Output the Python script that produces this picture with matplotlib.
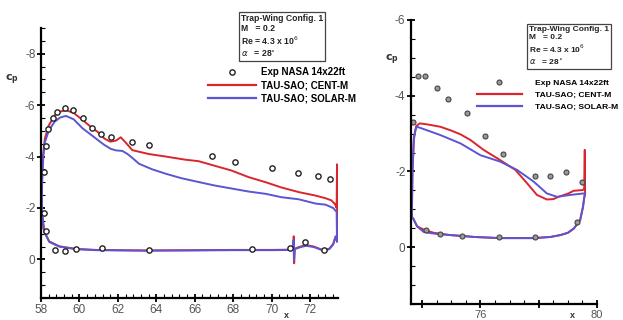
import matplotlib
matplotlib.use("Agg")
import matplotlib.pyplot as plt
from matplotlib.lines import Line2D
from matplotlib.ticker import MultipleLocator

plt.rcParams['font.family'] = ['Liberation Sans', 'DejaVu Sans']
plt.rcParams['axes.unicode_minus'] = False

RED = '#d9262e'
BLUE = '#5b55d2'

# ---- left panel data (x, cp) ----
l_exp_x = [58.17, 58.26, 58.39, 58.60, 58.83, 59.24, 59.67, 60.16, 60.64, 61.11,
           61.63, 62.75, 63.61, 66.90, 68.07, 70.04, 71.39, 72.39, 73.05,
           58.14, 58.26, 58.73, 59.24, 59.81, 61.19, 63.61, 68.97, 70.96, 71.72, 72.74]
l_exp_cp = [-3.40, -4.42, -5.07, -5.51, -5.73, -5.90, -5.82, -5.51, -5.12, -4.87,
            -4.77, -4.55, -4.46, -4.04, -3.80, -3.57, -3.36, -3.23, -3.12,
            -1.80, -1.09, -0.35, -0.32, -0.41, -0.44, -0.36, -0.41, -0.46, -0.67, -0.36]

l_cent_up_x = [58.02, 58.05, 58.10, 58.20, 58.40, 58.70, 59.00, 59.30, 59.70, 60.20,
               60.60, 61.00, 61.30, 61.60, 61.90, 62.15, 62.40, 62.75, 63.60, 64.50,
               65.50, 66.20, 67.00, 67.90, 68.80, 69.70, 70.50, 71.40, 72.30, 72.80,
               73.10, 73.30, 73.38, 73.40, 73.41]
l_cent_up_cp = [-1.20, -3.00, -4.00, -4.70, -5.20, -5.60, -5.75, -5.80, -5.70, -5.40,
                -5.15, -4.93, -4.70, -4.58, -4.62, -4.75, -4.55, -4.25, -4.10, -4.00,
                -3.88, -3.82, -3.65, -3.46, -3.20, -3.00, -2.80, -2.62, -2.48, -2.38,
                -2.30, -2.15, -2.00, -3.70, -0.80]
l_cent_lo_x = [58.02, 58.05, 58.17, 58.43, 58.95, 59.81, 60.85, 63.40, 66.00, 68.00,
               70.00, 71.00, 71.12, 71.15, 71.17, 71.20, 71.50, 71.80, 72.20, 72.60,
               72.80, 73.00, 73.20, 73.30, 73.41]
l_cent_lo_cp = [-1.20, -1.80, -1.09, -0.70, -0.51, -0.41, -0.37, -0.35, -0.36, -0.37,
                -0.37, -0.38, -0.40, -0.90, 0.15, -0.42, -0.50, -0.56, -0.50, -0.38,
                -0.37, -0.42, -0.60, -0.80, -0.80]

l_solar_up_x = [58.03, 58.06, 58.12, 58.20, 58.40, 58.70, 59.00, 59.30, 59.70, 60.16,
                60.60, 61.00, 61.30, 61.63, 61.90, 62.23, 62.50, 62.75, 63.10, 63.80,
                64.50, 65.30, 66.20, 67.00, 67.90, 68.80, 69.70, 70.50, 71.40, 72.30,
                72.80, 73.20, 73.38, 73.40]
l_solar_up_cp = [-1.50, -3.00, -4.00, -4.55, -5.00, -5.35, -5.52, -5.58, -5.45, -5.10,
                 -4.85, -4.62, -4.45, -4.30, -4.24, -4.22, -4.10, -3.95, -3.72, -3.50,
                 -3.33, -3.16, -3.01, -2.88, -2.76, -2.64, -2.55, -2.42, -2.34, -2.17,
                 -2.13, -2.00, -1.85, -0.70]
l_solar_lo_x = [58.03, 58.06, 58.17, 58.43, 58.95, 59.81, 60.85, 63.40, 66.00, 68.00,
                70.00, 71.00, 71.12, 71.14, 71.16, 71.20, 71.50, 71.80, 72.20, 72.60,
                72.80, 73.00, 73.20, 73.32, 73.40]
l_solar_lo_cp = [-1.50, -1.75, -1.07, -0.68, -0.50, -0.40, -0.36, -0.34, -0.35, -0.36,
                 -0.36, -0.37, -0.39, -0.75, 0.05, -0.40, -0.48, -0.53, -0.48, -0.37,
                 -0.36, -0.40, -0.58, -0.90, -0.70]

# ---- right panel data (x, cp) ----
r_exp_x = [73.68, 73.85, 74.09, 74.52, 74.89, 75.54, 76.17, 76.76, 77.86, 78.40,
           78.94, 79.48, 79.33, 74.12, 74.63, 75.37, 76.63, 77.88]
r_exp_cp = [-3.31, -4.52, -4.52, -4.21, -3.91, -3.54, -2.94, -2.46, -1.88, -1.88,
            -1.99, -1.71, -0.67, -0.45, -0.34, -0.29, -0.26, -0.26]

r_cent_up_x = [73.65, 73.67, 73.72, 73.80, 73.92, 74.20, 74.63, 75.00, 75.32, 75.66,
               76.11, 76.68, 77.20, 77.60, 77.94, 78.28, 78.50, 78.68, 79.02, 79.20,
               79.52, 79.56, 79.58, 79.59]
r_cent_up_cp = [-0.80, -2.00, -2.90, -3.20, -3.27, -3.24, -3.18, -3.08, -2.98, -2.83,
                -2.57, -2.30, -2.04, -1.69, -1.38, -1.26, -1.27, -1.33, -1.42, -1.49,
                -1.51, -1.55, -2.57, -1.40]
r_cent_lo_x = [73.65, 73.70, 73.83, 74.10, 74.40, 74.97, 75.80, 76.68, 77.83, 78.40,
               78.74, 79.00, 79.20, 79.42, 79.52, 79.56, 79.59]
r_cent_lo_cp = [-0.80, -0.75, -0.55, -0.45, -0.38, -0.32, -0.27, -0.24, -0.24, -0.27,
                -0.32, -0.38, -0.49, -0.71, -1.07, -1.30, -1.40]

r_solar_up_x = [73.65, 73.67, 73.72, 73.78, 73.83, 74.20, 74.63, 75.32, 76.00, 76.68,
                77.26, 77.83, 78.28, 78.63, 79.08, 79.54, 79.58]
r_solar_up_cp = [-0.80, -2.00, -2.85, -3.12, -3.18, -3.08, -2.96, -2.74, -2.43, -2.26,
                 -2.04, -1.73, -1.42, -1.33, -1.38, -1.42, -1.40]
r_solar_lo_x = [73.65, 73.70, 73.83, 74.06, 74.50, 74.97, 75.80, 76.68, 77.83, 78.40,
                78.74, 79.00, 79.20, 79.42, 79.52, 79.56, 79.58]
r_solar_lo_cp = [-0.80, -0.75, -0.55, -0.40, -0.35, -0.32, -0.27, -0.24, -0.24, -0.27,
                 -0.32, -0.38, -0.49, -0.71, -1.07, -1.30, -1.40]

info_text = "Trap-Wing Config. 1\nM   = 0.2\nRe = 4.3 x 10$^6$\n$\\alpha$   = 28$^{\\circ}$"
labels = ["Exp NASA 14x22ft", "TAU-SAO; CENT-M", "TAU-SAO; SOLAR-M"]

fig = plt.figure(figsize=(6.23, 3.2), dpi=100)
axL = fig.add_axes([0.0658, 0.06875, 0.4767, 0.84375])
axR = fig.add_axes([0.6597, 0.05, 0.2986, 0.8875])


def style(ax, xlim, ylim, xmaj, xmin):
    ax.set_xlim(*xlim)
    ax.set_ylim(*ylim)
    for s in ('top', 'right'):
        ax.spines[s].set_visible(False)
    for s in ('left', 'bottom'):
        ax.spines[s].set_linewidth(1.6)
    ax.xaxis.set_major_locator(MultipleLocator(xmaj))
    ax.xaxis.set_minor_locator(MultipleLocator(xmin))
    ax.yaxis.set_major_locator(MultipleLocator(2))
    ax.yaxis.set_minor_locator(MultipleLocator(0.5))
    ax.tick_params(which='major', direction='inout', length=6, width=1.3,
                   labelsize=8.5, labelcolor='#555555', pad=1)
    ax.tick_params(which='minor', direction='in', length=3, width=0.8)


# left panel
axL.plot(l_cent_up_x, l_cent_up_cp, color=RED, lw=1.4)
axL.plot(l_cent_lo_x, l_cent_lo_cp, color=RED, lw=1.4)
axL.plot(l_solar_up_x, l_solar_up_cp, color=BLUE, lw=1.4)
axL.plot(l_solar_lo_x, l_solar_lo_cp, color=BLUE, lw=1.4)
axL.plot(l_exp_x, l_exp_cp, 'o', ms=3.8, mfc='white', mec='#222222', mew=1.0, clip_on=False)
style(axL, (58, 73.45), (1.5, -9), 2, 0.4)

# right panel
axR.plot(r_cent_up_x, r_cent_up_cp, color=RED, lw=1.4)
axR.plot(r_cent_lo_x, r_cent_lo_cp, color=RED, lw=1.4)
axR.plot(r_solar_up_x, r_solar_up_cp, color=BLUE, lw=1.4)
axR.plot(r_solar_lo_x, r_solar_lo_cp, color=BLUE, lw=1.4)
axR.plot(r_exp_x, r_exp_cp, 'o', ms=3.6, mfc='#9a9a9a', mec='#444444', mew=0.8, clip_on=False)
style(axR, (73.62, 80), (1.5, -6), 2, 0.5)
axR.set_xticks([74, 76, 78, 80])
axR.set_xticklabels(['', '76', '', '80'])
axR.tick_params(axis='x', labelsize=8)

for ax, lx, ly, xx, xy in [(axL, -0.098, 0.78, 0.825, -0.073), (axR, -0.10, 0.835, 0.87, -0.048)]:
    ax.set_ylabel(r'$\mathbf{c_p}$', rotation=0, fontsize=8, color='#333333')
    ax.yaxis.set_label_coords(lx, ly)
    ax.set_xlabel('x', fontsize=6.5, color='#333333', fontweight='bold', va='baseline')
    ax.xaxis.set_label_coords(xx, xy)

# info boxes
fig.text(241 / 623, 1 - 14 / 320, info_text, ha='left', va='top', fontsize=6.2,
         fontweight='bold', color='#222222', linespacing=1.15,
         bbox=dict(boxstyle='square,pad=0.25', fc='white', ec='#444444', lw=0.9))
fig.text(529 / 623, 1 - 26 / 320, info_text, ha='left', va='top', fontsize=6.0,
         fontweight='bold', color='#222222', linespacing=1.15,
         bbox=dict(boxstyle='square,pad=0.25', fc='white', ec='#444444', lw=0.9))

# legends
hL = [Line2D([], [], ls='none', marker='o', ms=3.8, mfc='white', mec='#222222', mew=1.0),
      Line2D([], [], color=RED, lw=1.6), Line2D([], [], color=BLUE, lw=1.6)]
hR = [Line2D([], [], ls='none', marker='o', ms=3.6, mfc='#9a9a9a', mec='#444444', mew=0.8),
      Line2D([], [], color=RED, lw=1.6), Line2D([], [], color=BLUE, lw=1.6)]
legL = fig.legend(hL, labels, loc='upper left', bbox_to_anchor=(208 / 623, 1 - 67 / 320),
                  frameon=False, borderpad=0, borderaxespad=0, handlelength=4.9,
                  handletextpad=0.55, labelspacing=0.35,
                  prop={'family': 'Liberation Sans', 'weight': 'bold', 'size': 7})
legR = fig.legend(hR, labels, loc='upper left', bbox_to_anchor=(477 / 623, 1 - 79 / 320),
                  frameon=False, borderpad=0, borderaxespad=0, handlelength=5.3,
                  handletextpad=1.5, labelspacing=0.5,
                  prop={'family': 'Liberation Sans', 'weight': 'bold', 'size': 6.1})

fig.savefig('out.png', dpi=100)
